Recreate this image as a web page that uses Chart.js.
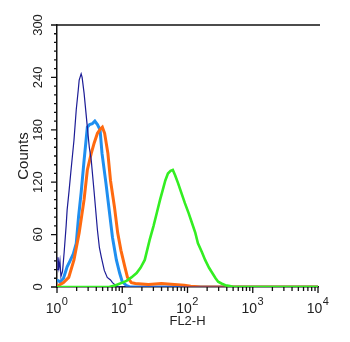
<!DOCTYPE html>
<html>
<head>
<meta charset="utf-8">
<script src="https://cdn.jsdelivr.net/npm/chart.js@4.4.1/dist/chart.umd.min.js"></script>
<style>
  html, body { margin: 0; padding: 0; background: #fff; }
  #wrap { width: 350px; height: 342px; }
</style>
</head>
<body>
<div id="wrap"><canvas id="c" width="350" height="342"></canvas></div>
<script>
// FL2-H positions are given as log10 values (10^0 .. 10^4)
const xDecades = [0, 1, 2, 3, 4];
const xDecadeLabels = ['0', '1', '2', '3', '4'];
const yTicks = [0, 60, 120, 180, 240, 300];

const navyX = [0.00, 0.015, 0.03, 0.045, 0.06, 0.085, 0.11, 0.14, 0.155, 0.185, 0.215, 0.26, 0.295, 0.325, 0.34, 0.37, 0.385, 0.415, 0.465, 0.495, 0.525, 0.57, 0.62, 0.65, 0.68, 0.725, 0.77, 0.82, 0.85, 0.895, 0.96, 4.0];
const navyY = [20, 34, 22, 30, 12, 18, 40, 70, 88, 110, 134, 168, 203, 225, 237, 244, 240, 222, 183, 160, 145, 108, 65, 45, 34, 19, 11, 8, 5, 2, 0, 0];

const blueX = [0.00, 0.05, 0.10, 0.155, 0.20, 0.25, 0.295, 0.33, 0.37, 0.415, 0.465, 0.50, 0.54, 0.58, 0.62, 0.66, 0.69, 0.75, 0.80, 0.85, 0.91, 0.96, 1.00, 1.06, 1.12, 4.0];
const blueY = [8, 6, 10, 23, 30, 38, 50, 80, 108, 145, 183, 186, 187, 190, 186, 180, 153, 119, 88, 57, 31, 16, 6, 2, 0, 0];

const orangeX = [0.00, 0.03, 0.10, 0.18, 0.26, 0.34, 0.415, 0.465, 0.525, 0.57, 0.62, 0.665, 0.695, 0.73, 0.78, 0.82, 0.88, 0.93, 0.98, 1.04, 1.08, 1.14, 1.20, 1.40, 1.60, 1.80, 1.95, 2.05, 2.20, 4.0];
const orangeY = [0, 2, 5, 11, 31, 62, 100, 134, 153, 165, 176, 181, 183, 176, 153, 122, 92, 62, 42, 23, 11, 5, 4, 3, 4, 3, 2, 1, 0, 0];

const greenX = [0.00, 0.80, 0.90, 1.00, 1.065, 1.14, 1.22, 1.28, 1.345, 1.42, 1.48, 1.53, 1.58, 1.62, 1.66, 1.70, 1.74, 1.775, 1.81, 1.855, 1.91, 1.96, 2.02, 2.07, 2.12, 2.16, 2.22, 2.27, 2.33, 2.38, 2.43, 2.47, 2.52, 2.58, 2.65, 2.70, 4.0];
const greenY = [0, 0, 2, 5, 7, 11, 16, 22, 31, 54, 70, 85, 100, 111, 122, 130, 133, 134, 128, 119, 107, 96, 84, 73, 62, 50, 40, 31, 22, 16, 10, 6, 4, 2, 1, 0, 0];

function pts(xs, ys) { return xs.map((x, i) => ({ x: x, y: ys[i] })); }

const FONT = 'Liberation Sans, Arial, sans-serif';

const tickPlugin = {
  id: 'tickMarks',
  afterDraw(chart) {
    const ctx = chart.ctx;
    const xs = chart.scales.x, ys = chart.scales.y;
    const ca = chart.chartArea;
    ctx.save();
    ctx.strokeStyle = '#111';
    ctx.lineWidth = 1.3;
    // top border
    ctx.beginPath();
    ctx.moveTo(ca.left - 1, ca.top);
    ctx.lineTo(ca.right + 2, ca.top);
    ctx.stroke();
    // x ticks
    ctx.beginPath();
    xDecades.forEach(d => {
      const p = xs.getPixelForValue(d);
      ctx.moveTo(p, ca.bottom); ctx.lineTo(p, ca.bottom + 6);
      if (d < 4) {
        for (let k = 2; k <= 9; k++) {
          const q = xs.getPixelForValue(d + Math.log10(k));
          ctx.moveTo(q, ca.bottom); ctx.lineTo(q, ca.bottom + 4);
        }
      }
    });
    // y ticks
    for (let v = 0; v <= 300; v += 10) {
      const p = ys.getPixelForValue(v);
      const len = (v % 60 === 0) ? 6 : 3;
      ctx.moveTo(ca.left, p); ctx.lineTo(ca.left - len, p);
    }
    ctx.stroke();
    // x decade labels: 10 with raised exponent
    ctx.fillStyle = '#222';
    ctx.textBaseline = 'alphabetic';
    ctx.textAlign = 'left';
    xDecades.forEach((d, i) => {
      const p = xs.getPixelForValue(d);
      ctx.font = '14px ' + FONT;
      const wb = ctx.measureText('10').width;
      ctx.font = '11px ' + FONT;
      const we = ctx.measureText(xDecadeLabels[i]).width;
      const x0 = p - (wb + we) / 2 - 0.5;
      ctx.font = '14px ' + FONT;
      ctx.fillText('10', x0, ca.bottom + 26);
      ctx.font = '11px ' + FONT;
      ctx.fillText(xDecadeLabels[i], x0 + wb + 0.5, ca.bottom + 18);
    });
    ctx.restore();
  }
};

new Chart(document.getElementById('c'), {
  type: 'line',
  data: {
    datasets: [
      { label: 'green', data: pts(greenX, greenY), borderColor: '#33ee22', borderWidth: 2.6, order: 0 },
      { label: 'navy', data: pts(navyX, navyY), borderColor: '#1c1c96', borderWidth: 1.2, order: 1 },
      { label: 'orange', data: pts(orangeX, orangeY), borderColor: '#ff6a10', borderWidth: 3, order: 2 },
      { label: 'blue', data: pts(blueX, blueY), borderColor: '#1f8ff0', borderWidth: 3, order: 3 }
    ]
  },
  options: {
    responsive: false,
    animation: false,
    devicePixelRatio: 1,
    layout: { padding: { left: 0, right: 32, top: 25, bottom: 0 } },
    elements: { point: { radius: 0 }, line: { stepped: false, fill: false, tension: 0, borderJoinStyle: 'miter' } },
    plugins: { legend: { display: false }, tooltip: { enabled: false } },
    scales: {
      x: {
        type: 'linear', min: 0, max: 4,
        grid: { display: false, drawTicks: false },
        border: { display: true, color: '#111', width: 1.5 },
        afterBuildTicks: s => { s.ticks = xDecades.map(v => ({ value: v })); },
        afterFit: s => { s.height = 55; },
        ticks: { display: false },
        title: { display: true, text: 'FL2-H', color: '#222',
          font: { family: FONT, size: 13 },
          padding: { top: 0, bottom: 13 } }
      },
      y: {
        type: 'linear', min: 0, max: 300,
        grid: { display: false, drawTicks: false },
        border: { display: true, color: '#111', width: 1.5 },
        afterBuildTicks: s => { s.ticks = yTicks.map(v => ({ value: v })); },
        afterFit: s => { s.width = 57; },
        ticks: {
          color: '#222', padding: 8, minRotation: 90, maxRotation: 90, crossAlign: 'center',
          font: { family: FONT, size: 13 }
        },
        title: { display: true, text: 'Counts', color: '#222',
          font: { family: FONT, size: 15 },
          padding: { top: 15, bottom: 0 } }
      }
    }
  },
  plugins: [tickPlugin]
});
</script>
</body>
</html>
